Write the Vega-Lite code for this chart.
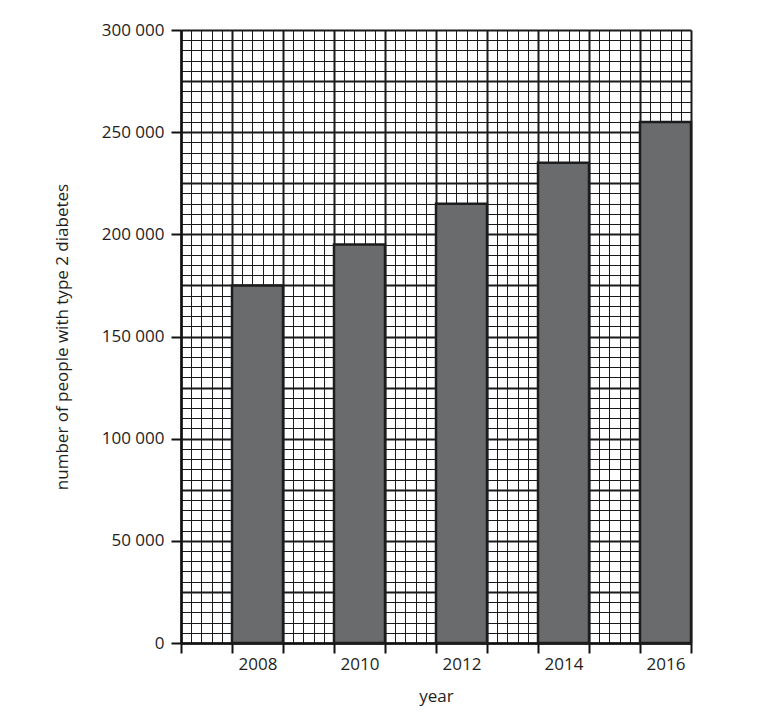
{
  "$schema": "https://vega.github.io/schema/vega-lite/v6.json",
  "width": 510,
  "height": 613,
  "autosize": {"type": "none"},
  "padding": {"left": 181, "top": 30, "right": 86, "bottom": 84},
  "background": "white",
  "data": {
    "values": [
      {"year": 2008, "people": 175000},
      {"year": 2010, "people": 195000},
      {"year": 2012, "people": 215000},
      {"year": 2014, "people": 235000},
      {"year": 2016, "people": 255000}
    ]
  },
  "mark": {"type": "bar", "width": 51, "fill": "#696b6c", "stroke": "#1c1c1c", "strokeWidth": 2.5},
  "encoding": {
    "x": {
      "field": "year",
      "type": "quantitative",
      "title": "year",
      "scale": {"domain": [2006.5, 2016.5], "nice": false, "zero": false, "padding": 0},
      "axis": {
        "values": [2006.5, 2006.7, 2006.9, 2007.1, 2007.3, 2007.5, 2007.7, 2007.9, 2008.1, 2008.3,
                   2008.5, 2008.7, 2008.9, 2009.1, 2009.3, 2009.5, 2009.7, 2009.9, 2010.1, 2010.3,
                   2010.5, 2010.7, 2010.9, 2011.1, 2011.3, 2011.5, 2011.7, 2011.9, 2012.1, 2012.3,
                   2012.5, 2012.7, 2012.9, 2013.1, 2013.3, 2013.5, 2013.7, 2013.9, 2014.1, 2014.3,
                   2014.5, 2014.7, 2014.9, 2015.1, 2015.3, 2015.5, 2015.7, 2015.9, 2016.1, 2016.3, 2016.5],
        "labelExpr": "abs(datum.value - floor(datum.value) - 0.5) < 0.01 && round(datum.value + 0.5) % 2 === 0 ? format(round(datum.value + 0.5), 'd') : ''",
        "labelOffset": 25.5,
        "labelOverlap": false,
        "labelFlush": false,
        "labelPadding": 3,
        "tickSize": {"condition": {"test": "abs(datum.value - floor(datum.value) - 0.5) < 0.01", "value": 10}, "value": 0},
        "gridWidth": {"condition": {"test": "abs(datum.value - floor(datum.value) - 0.5) < 0.01", "value": 2}, "value": 1},
        "titlePadding": 16
      }
    },
    "y": {
      "field": "people",
      "type": "quantitative",
      "title": "number of people with type 2 diabetes",
      "scale": {"domain": [0, 300000], "nice": false},
      "axis": {
        "values": [0, 5000, 10000, 15000, 20000, 25000, 30000, 35000, 40000, 45000,
                   50000, 55000, 60000, 65000, 70000, 75000, 80000, 85000, 90000, 95000,
                   100000, 105000, 110000, 115000, 120000, 125000, 130000, 135000, 140000, 145000,
                   150000, 155000, 160000, 165000, 170000, 175000, 180000, 185000, 190000, 195000,
                   200000, 205000, 210000, 215000, 220000, 225000, 230000, 235000, 240000, 245000,
                   250000, 255000, 260000, 265000, 270000, 275000, 280000, 285000, 290000, 295000, 300000],
        "labelExpr": "datum.value % 50000 === 0 ? replace(format(datum.value, ','), ',', ' ') : ''",
        "labelOverlap": false,
        "labelFlush": false,
        "labelPadding": 7,
        "tickSize": {"condition": {"test": "datum.value % 50000 === 0", "value": 10}, "value": 0},
        "gridWidth": {"condition": {"test": "datum.value % 25000 === 0", "value": 2}, "value": 1},
        "titlePadding": 30
      }
    }
  },
  "config": {
    "view": {"stroke": null},
    "axis": {
      "grid": true,
      "gridColor": "#1a1a1a",
      "gridOpacity": 1,
      "domainColor": "#111111",
      "domainWidth": 2.5,
      "tickColor": "#111111",
      "tickWidth": 2,
      "labelFont": "Open Sans",
      "labelFontSize": 17,
      "labelColor": "#1e1e1e",
      "titleFont": "Open Sans",
      "titleFontSize": 17,
      "titleFontWeight": "normal",
      "titleColor": "#1e1e1e"
    }
  }
}
